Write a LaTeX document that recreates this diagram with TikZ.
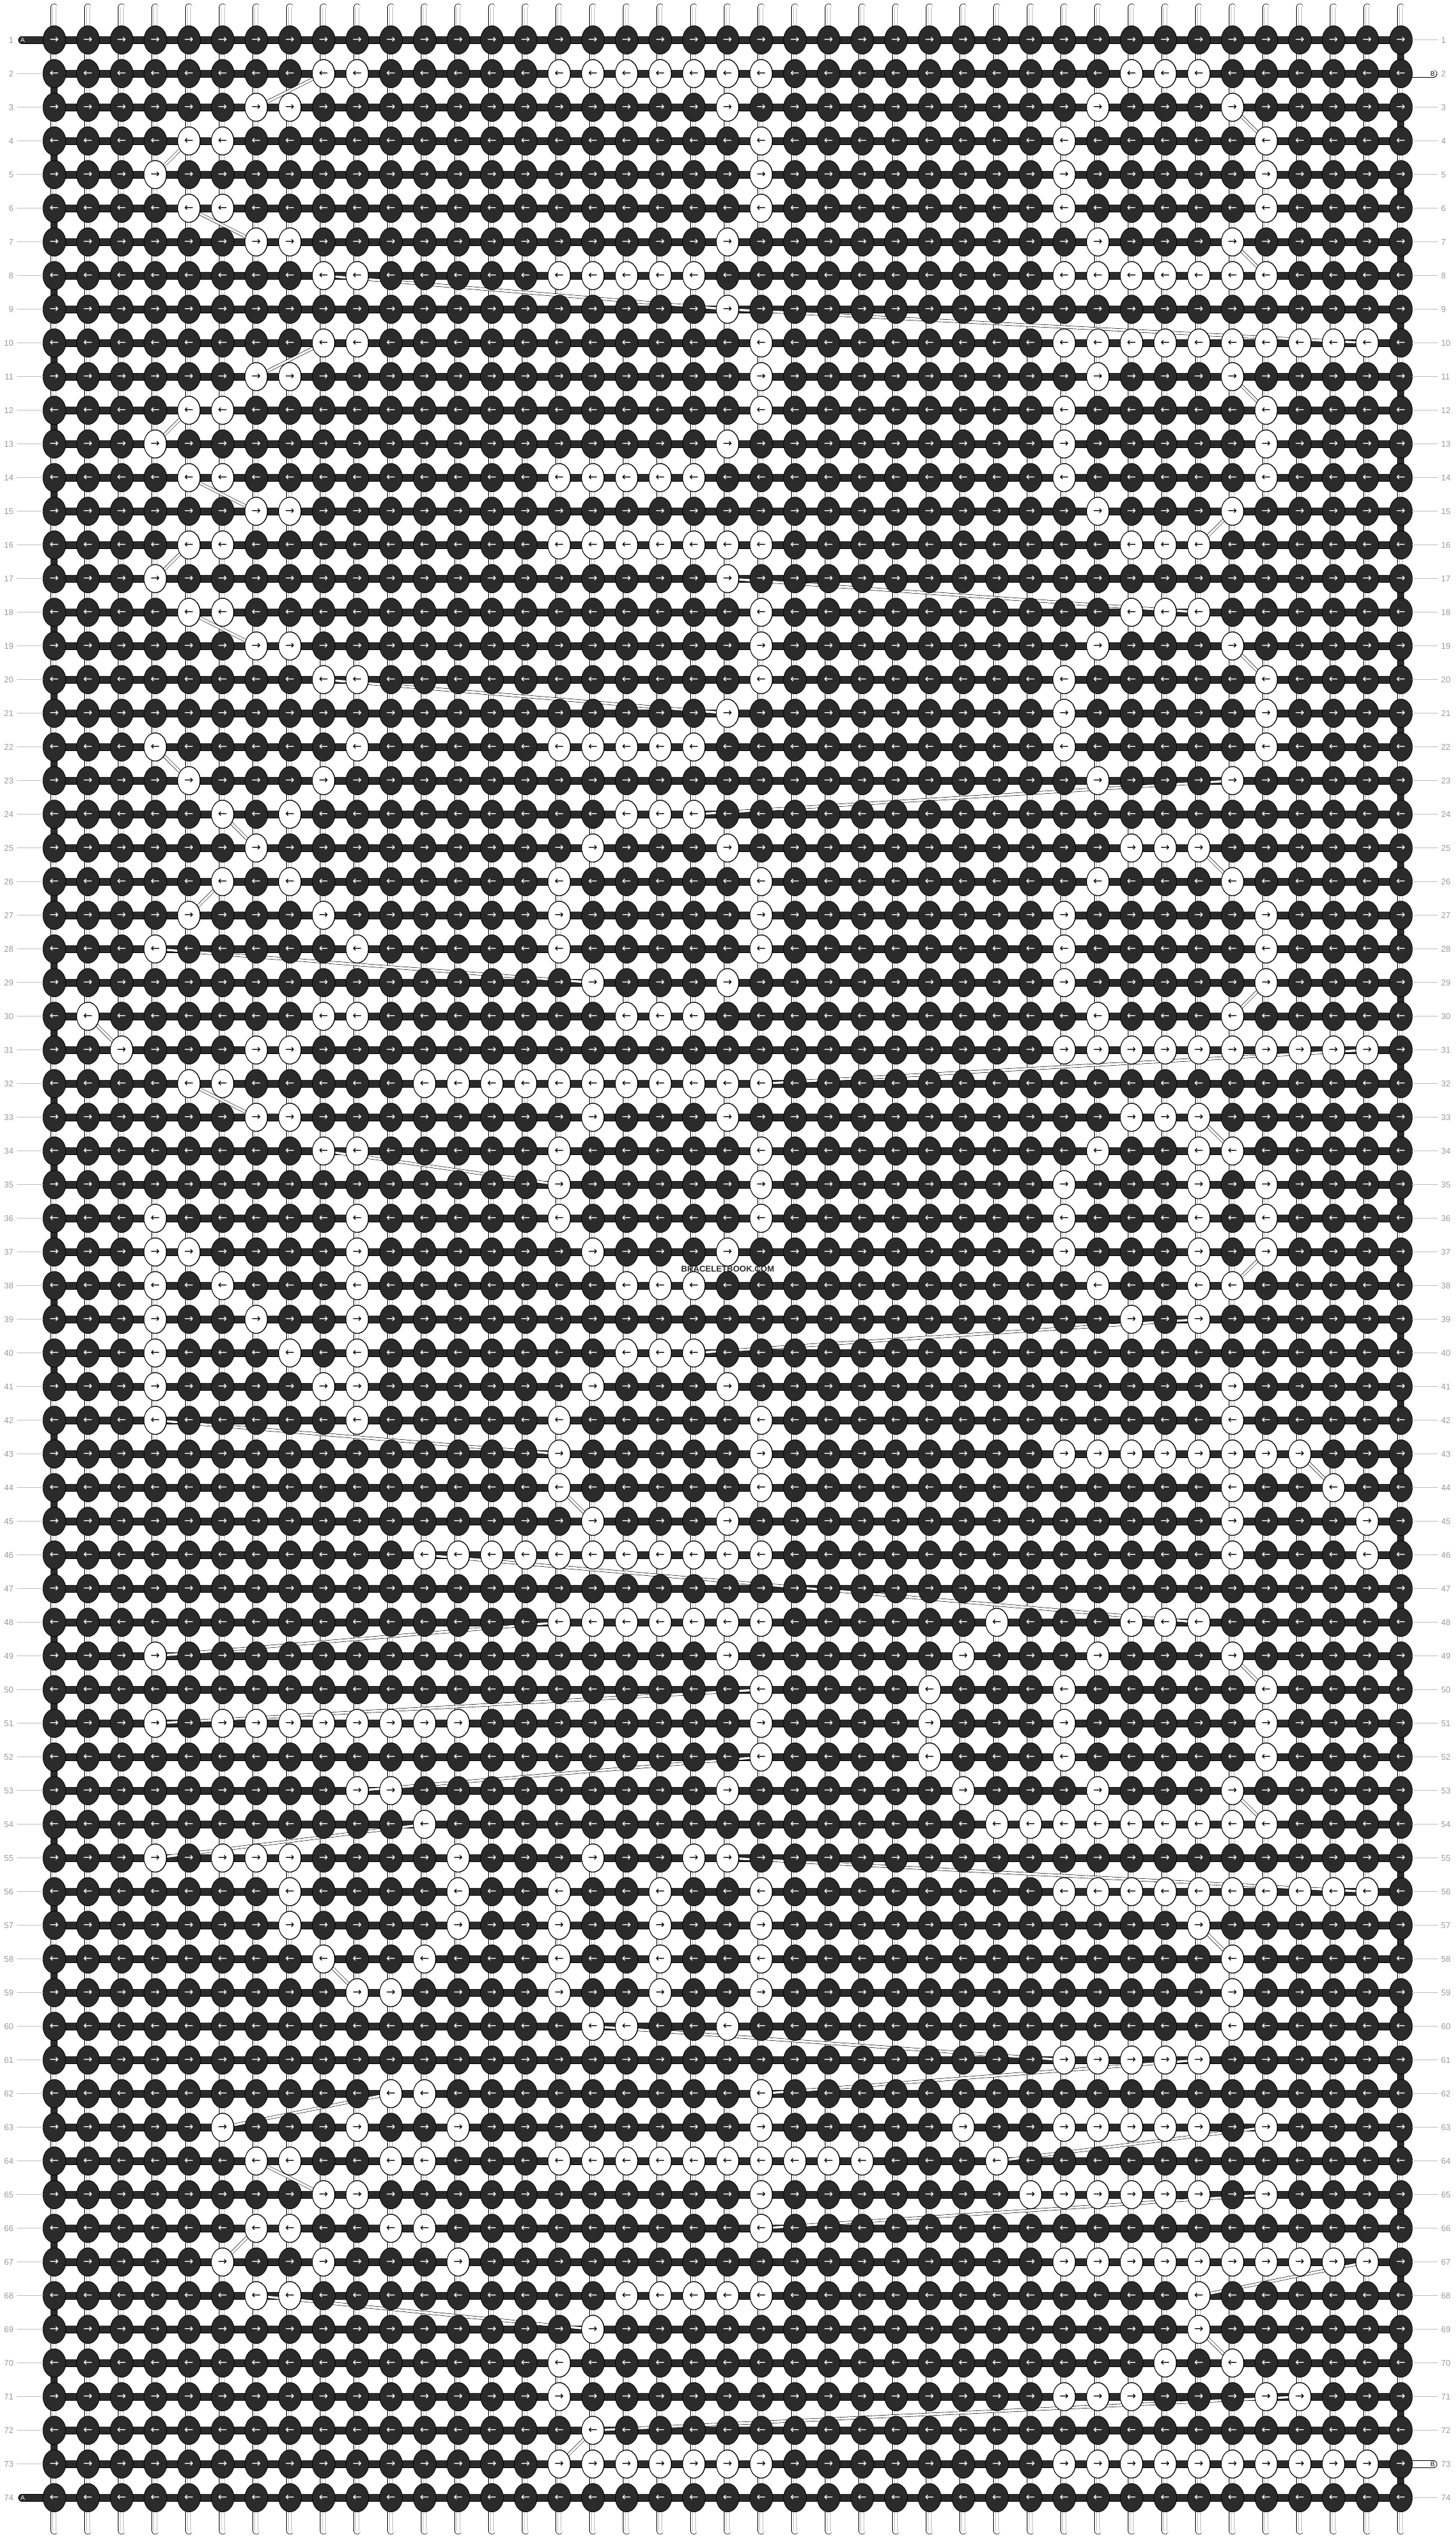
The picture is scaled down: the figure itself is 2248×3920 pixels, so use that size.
\documentclass[tikz,border=0pt]{standalone}
\usepackage{fontspec}
\setmainfont{Liberation Sans}
\newfontfamily\arrowfont{DejaVu Sans}
\usetikzlibrary{shapes.geometric,backgrounds}
\definecolor{knotfill}{HTML}{2B2B2B}
\definecolor{rowgray}{HTML}{9A9A9A}
\definecolor{rulegray}{HTML}{BDBDBD}
\tikzset{
  knotrim/.style={black,line width=35.8pt,line cap=round,dash pattern=on 0.01pt off 41.59pt},
  knotcore/.style={knotfill,line width=34.2pt,line cap=round,dash pattern=on 0.01pt off 41.59pt},
  arrowrow/.style={inner sep=0pt,text=white,font=\arrowfont\fontsize{17}{17}\selectfont},
  lightknot/.style={ellipse,draw=black,line width=0.8pt,fill=white,
    minimum width=34.4pt,minimum height=43pt,inner sep=0pt,
    text=black,font=\arrowfont\fontsize{17}{17}\selectfont},
  strand/.style={draw=black,line width=0.7pt,double=white,double distance=9.6pt,line cap=round},
  strandline/.style={rulegray,line width=0.5pt},
  rowbar/.style={draw=black,line width=0.6pt,double=knotfill,double distance=10.6pt},
  edgeturn/.style={knotfill,line width=11pt},
  astring/.style={draw=black,line width=0.7pt,double=knotfill,double distance=10.4pt,line cap=round},
  bstring/.style={draw=black,line width=0.7pt,double=white,double distance=10.4pt,line cap=round},
  whitethread/.style={draw=black,line width=0.6pt,double=white,double distance=3.4pt},
  rowlabel/.style={text=rowgray,font=\fontsize{13}{13}\selectfont,inner xsep=5pt,inner ysep=2pt},
  labelrule/.style={rulegray,line width=0.8pt},
  endlabel/.style={font=\fontsize{10}{10}\selectfont,inner sep=0pt}
}
\begin{document}
\begin{tikzpicture}[x=1pt,y=-1pt]
\useasboundingbox (0,0) rectangle (2248,3920);
\foreach \r in {1,...,74} {
  \pgfmathsetmacro\yr{61.7+52*(\r-1)}
  \coordinate (west-\r) at (83.7,\yr);
  \coordinate (east-\r) at (2163.7,\yr);
  \coordinate (kw-\r) at (66.5,\yr);
  \coordinate (ke-\r) at (2181,\yr);
}
% dark knots: round dots stretched into ellipses
\begin{scope}[transform canvas={yscale=1.25}]
  \foreach \c in {1,...,41} {
    \pgfmathsetmacro\xc{83.7+52*(\c-1)}
    \draw[knotrim] (\xc,49.36) -- (\xc,3086.7);
    \draw[knotcore] (\xc,49.36) -- (\xc,3086.7);
  }
\end{scope}
\foreach \r in {1,...,74} {
  \pgfmathsetmacro\yr{61.7+52*(\r-1)}
  \ifodd\r \def\arr{→}\else \def\arr{←}\fi
  \node[arrowrow] (arrows-\r) at (1123.7,\yr) {\foreach \i in {1,...,41}{\makebox[52pt]{\arr}}};
}
\foreach \r/\cols in {
  2/{9,10,16,17,18,19,20,21,22,33,34,35},
  3/{7,8,21,32,36},
  4/{5,6,22,31,37},
  5/{4,22,31,37},
  6/{5,6,22,31,37},
  7/{7,8,21,32,36},
  8/{9,10,16,17,18,19,20,31,32,33,34,35,36,37},
  9/{21},
  10/{9,10,22,31,32,33,34,35,36,37,38,39,40},
  11/{7,8,22,32,36},
  12/{5,6,22,31,37},
  13/{4,21,31,37},
  14/{5,6,16,17,18,19,20,31,37},
  15/{7,8,32,36},
  16/{5,6,16,17,18,19,20,21,22,33,34,35},
  17/{4,21},
  18/{5,6,22,33,34,35},
  19/{7,8,22,32,36},
  20/{9,10,22,31,37},
  21/{21,31,37},
  22/{4,10,16,17,18,19,20,31,37},
  23/{5,9,32,36},
  24/{6,8,18,19,20},
  25/{7,17,21,33,34,35},
  26/{6,8,16,22,32,36},
  27/{5,9,16,22,31,37},
  28/{4,10,16,22,31,37},
  29/{17,21,31,37},
  30/{2,9,10,18,19,20,32,36},
  31/{3,7,8,31,32,33,34,35,36,37,38,39,40},
  32/{5,6,12,13,14,15,16,17,18,19,20,21,22},
  33/{7,8,17,21,33,34,35},
  34/{9,10,16,22,32,35,36},
  35/{16,22,31,35,37},
  36/{4,10,16,22,31,35,37},
  37/{4,5,10,17,21,31,35,37},
  38/{4,6,10,18,19,20,32,35,36},
  39/{4,7,10,33,35},
  40/{4,8,10,18,19,20},
  41/{4,9,10,17,21,36},
  42/{4,10,16,22,36},
  43/{16,22,31,32,33,34,35,36,37,38},
  44/{16,22,36,39},
  45/{17,21,36,40},
  46/{12,13,14,15,16,17,18,19,20,21,22,36,40},
  48/{16,17,18,19,20,21,22,29,33,34,35},
  49/{4,21,28,32,36},
  50/{22,27,31,37},
  51/{4,6,7,8,9,10,11,12,13,22,27,31,37},
  52/{22,27,31,37},
  53/{10,11,21,28,32,36},
  54/{12,29,30,31,32,33,34,35,36,37},
  55/{4,6,7,8,13,17,20,21},
  56/{8,13,16,19,22,31,32,33,34,35,36,37,38,39,40},
  57/{8,13,16,19,22,35},
  58/{9,12,16,19,22,36},
  59/{10,11,16,19,22,36},
  60/{17,18,21,36},
  61/{31,32,33,34,35},
  62/{11,12,22},
  63/{6,10,13,22,28,31,32,33,34,35,37},
  64/{7,8,11,12,16,17,18,19,20,21,22,23,24,25,29},
  65/{9,10,22,30,31,32,33,34,35,37},
  66/{7,8,11,12,22},
  67/{6,9,13,31,32,33,34,35,36,37,38,39,40},
  68/{7,8,18,19,20,21,22,35},
  69/{17,35},
  70/{16,34,36},
  71/{16,31,32,33,37,38},
  72/{17},
  73/{16,17,18,19,20,21,22,31,32,33,34,35,36,37,38,39,40}} {
  \pgfmathsetmacro\yr{61.7+52*(\r-1)}
  \ifodd\r \def\arr{→}\else \def\arr{←}\fi
  \foreach \c in \cols
    \node[lightknot] (k-\r-\c) at ({83.7+52*(\c-1)},\yr) {\arr};
}
\begin{pgfonlayer}{background}
  \fill[white] (0,0) rectangle (2248,3920);
  \foreach \c in {1,...,41} {
    \pgfmathsetmacro\xc{83.7+52*(\c-1)}
    \coordinate (top-\c) at (\xc,11);
    \coordinate (bot-\c) at (\xc,3909);
    \draw[strand] (top-\c) -- (bot-\c);
    \draw[strandline] ([xshift=-2.4pt]top-\c) -- ([xshift=-2.4pt]bot-\c)
      ([xshift=2.4pt]top-\c) -- ([xshift=2.4pt]bot-\c);
  }
  \foreach \r in {2,4,...,72} {
    \pgfmathtruncatemacro\s{\r+1}
    \draw[edgeturn] (west-\r) -- (west-\s);
  }
  \foreach \r in {1,3,...,73} {
    \pgfmathtruncatemacro\s{\r+1}
    \draw[edgeturn] (east-\r) -- (east-\s);
  }
  \foreach \r in {1,...,74}
    \draw[rowbar] (west-\r) -- (east-\r);
  \coordinate (astr-1) at (34,61.7);
  \coordinate (astr-74) at (34,3857.7);
  \coordinate (bstr-2) at (2214,113.7);
  \coordinate (bstr-73) at (2214,3805.7);
  \draw[astring] (astr-1) -- (west-1);
  \draw[astring] (astr-74) -- (west-74);
  \draw[bstring] (east-2) -- (bstr-2);
  \draw[bstring] (east-73) -- (bstr-73);
  \foreach \r/\a/\s/\b in {2/9/3/7, 3/36/4/37, 4/5/5/4, 6/5/7/7, 7/36/8/37,
    8/9/9/21, 9/21/10/40, 10/9/11/7, 11/36/12/37, 12/5/13/4, 14/5/15/7,
    15/36/16/35, 16/5/17/4, 17/21/18/35, 18/5/19/7, 19/36/20/37, 20/9/21/21,
    22/4/23/5, 23/36/24/20, 24/6/25/7, 25/35/26/36, 26/6/27/5, 28/4/29/17,
    29/37/30/36, 30/2/31/3, 31/40/32/22, 32/5/33/7, 33/35/34/36, 34/9/35/16,
    37/37/38/36, 39/35/40/20, 42/4/43/16, 43/38/44/39, 44/16/45/17,
    46/12/48/35, 48/16/49/4, 49/36/50/37, 50/22/51/4, 52/22/53/10,
    53/36/54/37, 54/12/55/4, 55/21/56/40, 57/35/58/36, 58/9/59/10,
    60/17/61/31, 61/35/62/22, 62/11/63/6, 63/37/64/29, 64/7/65/9,
    65/37/66/22, 66/7/67/6, 67/40/68/35, 68/7/69/17, 69/35/70/36,
    71/38/72/17, 72/17/73/16}
    \draw[whitethread] (k-\r-\a) -- (k-\s-\b);
\end{pgfonlayer}
\node[endlabel,text=white] (alabel-1) at (35,61.7) {A};
\node[endlabel,text=white] (alabel-74) at (35,3857.7) {A};
\node[endlabel] (blabel-2) at (2213,113.7) {B};
\node[endlabel] (blabel-73) at (2213,3805.7) {B};
\foreach \r in {1,...,74} {
  \pgfmathsetmacro\yr{61.7+52*(\r-1)}
  \node[rowlabel,anchor=east] (ll-\r) at (26,\yr) {\r};
  \node[rowlabel,anchor=west] (rl-\r) at (2221,\yr) {\r};
}
\foreach \r in {2,...,73}
  \draw[labelrule] (ll-\r) -- (kw-\r);
\foreach \r in {3,...,72}
  \draw[labelrule] (ke-\r) -- (rl-\r);
\draw[labelrule] (ke-1) -- (rl-1);
\draw[labelrule] (ke-74) -- (rl-74);
\node[font=\bfseries\fontsize{13}{13}\selectfont,text=knotfill] (site) at (1124,1960) {BRACELETBOOK.COM};
\end{tikzpicture}
\end{document}
